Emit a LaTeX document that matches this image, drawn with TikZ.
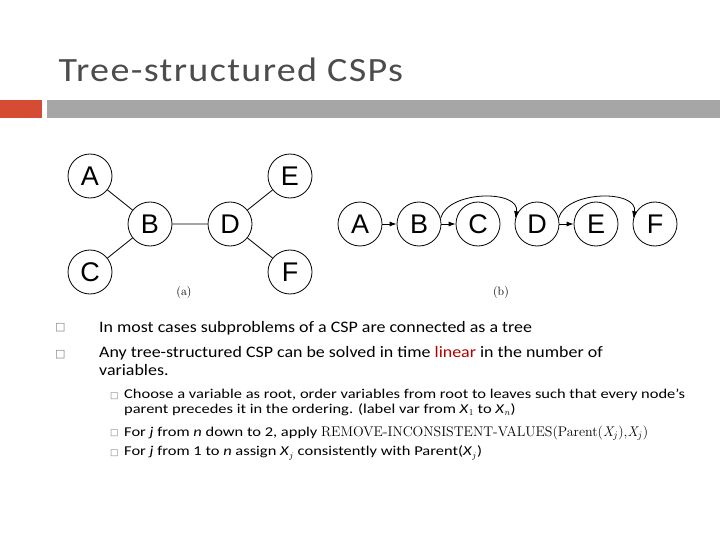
\documentclass[tikz,border=0pt]{standalone}
\usepackage{fontspec}
\setmainfont{Carlito}
\newfontfamily\symf{DejaVu Sans}
\newfontfamily\serf{Latin Modern Roman}
\newfontfamily\arf{Liberation Sans}
\usetikzlibrary{arrows.meta}
\begin{document}
\begin{tikzpicture}[x=1pt,y=-1pt,
  vn/.style={circle,draw,thick,minimum size=44pt,inner sep=0pt,font=\arf\fontsize{27}{27}\selectfont},
  ar/.style={-{Latex[length=7pt,width=5pt]},thick},
  bl/.style={anchor=west,inner sep=0pt,font=\fontsize{16}{18}\selectfont\addfontfeature{FakeStretch=1.12},align=left},
  sbl/.style={anchor=west,inner sep=0pt,font=\fontsize{13.5}{15}\selectfont\addfontfeature{FakeStretch=1.22},align=left},
  bx/.style={anchor=west,inner sep=0pt,text=gray,font=\symf\fontsize{11}{11}\selectfont}]
\useasboundingbox (0,0) rectangle (720,540);
\fill[white] (0,0) rectangle (720,540);
\node[anchor=west,text=black!70,font=\fontsize{34}{34}\selectfont\addfontfeature{LetterSpace=4,FakeStretch=1.12}] (title) at (55,70) {Tree-structured CSPs};
\fill[red!70!orange!80!black,opacity=.8] (0,100) rectangle (42,118);
\fill[black!35] (47,100) rectangle (720,118);
% (a)
\node[vn] (A) at (90,176) {A};
\node[vn] (B) at (150,224) {B};
\node[vn] (C) at (90,272) {C};
\node[vn] (D) at (230,224) {D};
\node[vn] (E) at (290,176) {E};
\node[vn] (F) at (290,272) {F};
\draw[thick] (A)--(B) (C)--(B) (B)--(D) (D)--(E) (D)--(F);
\node[font=\serf\fontsize{12}{12}\selectfont] (la) at (184,293) {(a)};
% (b)
\node[vn] (A2) at (360,224) {A};
\node[vn] (B2) at (419,224) {B};
\node[vn] (C2) at (478,224) {C};
\node[vn] (D2) at (537,224) {D};
\node[vn] (E2) at (596,224) {E};
\node[vn] (F2) at (655,224) {F};
\draw[ar] (A2)--(B2);
\draw[ar] (B2)--(C2);
\draw[ar] (D2)--(E2);
\draw[ar] (B2.15) to[out=75,in=80,looseness=1.0] (D2.165);
\draw[ar] (D2.15) to[out=75,in=80,looseness=1.0] (F2.165);
\node[font=\serf\fontsize{12}{12}\selectfont] (lb) at (501,293) {(b)};
% bullets
\node[bx] (b1) at (55,328) {□};
\node[bl] (t1) at (99,328) {In most cases subproblems of a CSP are connected as a tree};
\node[bx] (b2) at (55,355) {□};
\node[bl,anchor=north west] (t2) at (99,346) {Any tree-structured CSP can be solved in time \textcolor{red!70!black}{linear} in the number of\\variables.};
\node[bx,font=\symf\fontsize{9}{9}\selectfont] (s1) at (110,396) {□};
\node[sbl,anchor=north west] (u1) at (124,389) {Choose a variable as root, order variables from root to leaves such that every node's\\parent precedes it in the ordering. (label var from \textit{X}$_1$ to \textit{X}$_n$)};
\node[bx,font=\symf\fontsize{9}{9}\selectfont] (s2) at (110,433) {□};
\node[sbl] (u2) at (124,433) {For \textit{j} from \textit{n} down to 2, apply {\serf\fontsize{14}{15}\selectfont REMOVE-INCONSISTENT-VALUES(Parent(\textit{X$_j$}),\textit{X$_j$})}};
\node[bx,font=\symf\fontsize{9}{9}\selectfont] (s3) at (110,453) {□};
\node[sbl] (u3) at (124,453) {For \textit{j} from 1 to \textit{n} assign \textit{X}$_j$ consistently with Parent(\textit{X}$_j$)};
\end{tikzpicture}
\end{document}
